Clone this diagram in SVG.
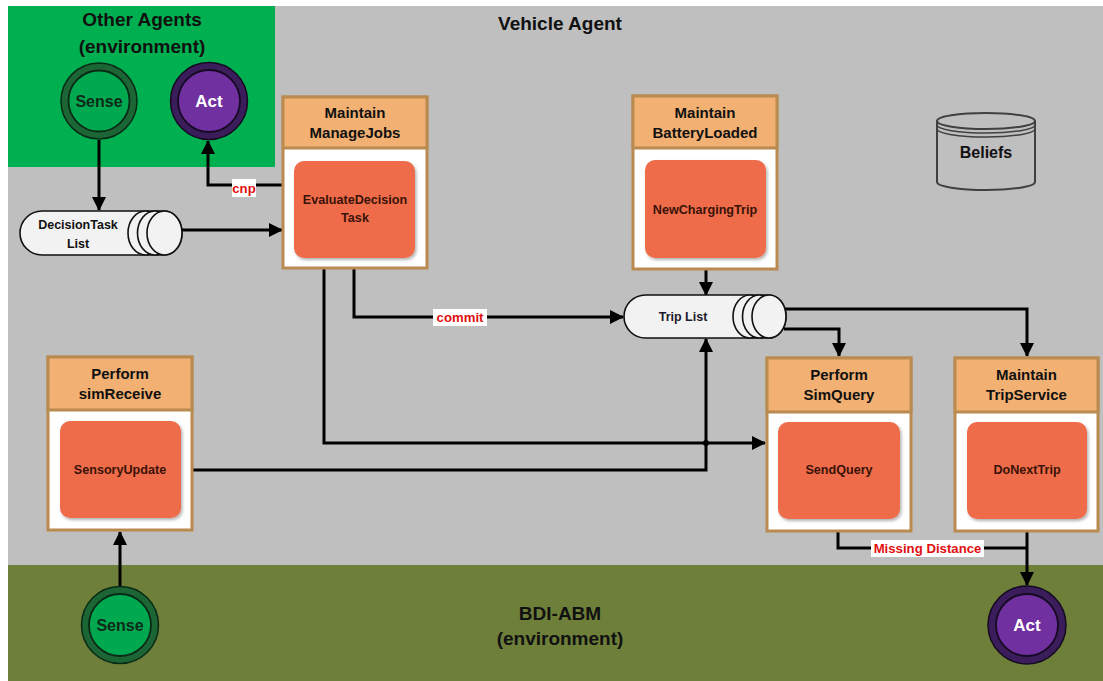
<svg xmlns="http://www.w3.org/2000/svg" width="1103" height="681" viewBox="0 0 1103 681">
<defs>
<marker id="ah" markerUnits="userSpaceOnUse" markerWidth="14" markerHeight="14" viewBox="0 0 14 14" refX="13" refY="7" orient="auto">
<path d="M0,0 L14,7 L0,14 Z" fill="#000"/>
</marker>
<filter id="sh" x="-10%" y="-10%" width="130%" height="130%">
<feDropShadow dx="1.5" dy="2" stdDeviation="1.5" flood-color="#000" flood-opacity="0.3"/>
</filter>
</defs>
<style>
text{font-family:"Liberation Sans",Arial,sans-serif;font-weight:bold;text-anchor:middle}
.ttl{font-size:19px;fill:#111}
.hdr{font-size:15px;fill:#111}
.in{font-size:12.6px;fill:#3a1208}
.q{font-size:12.5px;fill:#111}
.lbl{font-size:13.2px;fill:#e01010}
.outer{fill:#fff;stroke:#b98b50;stroke-width:3}
.head{fill:#f2b072;stroke:#b98b50;stroke-width:3}
.task{fill:#ee6c4a;filter:url(#sh)}
.cyl{fill:#f2f2f2;stroke:#111;stroke-width:1.6}
.con{fill:none;stroke:#000;stroke-width:3}
.lblbox{fill:#fff}
</style>
<rect x="0" y="0" width="1103" height="681" fill="#fff"/>
<rect x="8" y="6" width="1095" height="560" fill="#bfbfbf"/>
<rect x="8" y="6" width="267" height="161" fill="#00b050"/>
<rect x="8" y="565" width="1095" height="116" fill="#6e7f3a"/>
<text class="ttl" x="142" y="26">Other Agents</text>
<text class="ttl" x="142" y="53">(environment)</text>
<text class="ttl" x="560" y="30">Vehicle Agent</text>
<text class="ttl" x="560" y="620">BDI-ABM</text>
<text class="ttl" x="560" y="645">(environment)</text>

<g id="connectors">
<path class="con" d="M99,140 V210" marker-end="url(#ah)"/>
<path class="con" d="M182,230 H282" marker-end="url(#ah)"/>
<path class="con" d="M294,185 H208 V141" marker-end="url(#ah)"/>
<path class="con" d="M354,258 V317 H623" marker-end="url(#ah)"/>
<path class="con" d="M324,258 V443 H765" marker-end="url(#ah)"/>
<circle cx="706" cy="443" r="3" fill="#000"/>
<path class="con" d="M181,470 H706 V339" marker-end="url(#ah)"/>
<path class="con" d="M706,258 V295" marker-end="url(#ah)"/>
<path class="con" d="M784,309 H1027 V356" marker-end="url(#ah)"/>
<path class="con" d="M784,329 H839 V356" marker-end="url(#ah)"/>
<path class="con" d="M120,586 V532" marker-end="url(#ah)"/>
<path class="con" d="M838,519 V548 H1027"/>
<path class="con" d="M1027,519 V585" marker-end="url(#ah)"/>
<rect class="lblbox" x="232" y="179" width="24" height="18"/>
<text class="lbl" x="244" y="193">cnp</text>
<rect class="lblbox" x="433" y="309" width="54" height="17"/>
<text class="lbl" x="460" y="322">commit</text>
<rect class="lblbox" x="871" y="540" width="113" height="17"/>
<text class="lbl" x="927.5" y="553">Missing Distance</text>
</g>

<g id="sense-top">
<circle cx="99" cy="101" r="38" fill="#1c6636" stroke="#0a2a15" stroke-width="1.5"/>
<circle cx="99" cy="101" r="30.5" fill="#00a84f" stroke="#0a2a15" stroke-width="1.8"/>
<text x="99" y="107" style="font-size:16px;fill:#0f2a18">Sense</text>
</g>
<g id="act-top">
<circle cx="209" cy="101" r="38.5" fill="#3a1d5a" stroke="#150a22" stroke-width="1.5"/>
<circle cx="209" cy="101" r="31" fill="#7030a0" stroke="#150a22" stroke-width="1.8"/>
<text x="209" y="107" style="font-size:17px;fill:#fff">Act</text>
</g>

<g id="decision-task-list">
<path class="cyl" d="M42,211 H164.5 A17.5,22 0 0 1 164.5,255 H42 A22,22 0 0 1 42,211 Z"/>
<ellipse class="cyl" cx="145.5" cy="233" rx="17.5" ry="22"/>
<ellipse class="cyl" cx="155" cy="233" rx="17.5" ry="22"/>
<ellipse class="cyl" cx="164.5" cy="233" rx="17.5" ry="22"/>
<text class="q" x="78" y="229">DecisionTask</text>
<text class="q" x="78" y="248">List</text>
</g>

<g id="manage-jobs">
<rect class="outer" x="283" y="97" width="144" height="171"/>
<rect class="head" x="283" y="97" width="144" height="51"/>
<text class="hdr" x="355" y="118">Maintain</text>
<text class="hdr" x="355" y="138">ManageJobs</text>
<rect class="task" x="294" y="161" width="121" height="97" rx="10"/>
<text class="in" x="355" y="204">EvaluateDecision</text>
<text class="in" x="355" y="222">Task</text>
</g>

<g id="battery-loaded">
<rect class="outer" x="633" y="96" width="144" height="173"/>
<rect class="head" x="633" y="96" width="144" height="52"/>
<text class="hdr" x="705" y="118">Maintain</text>
<text class="hdr" x="705" y="138">BatteryLoaded</text>
<rect class="task" x="645" y="160" width="121" height="98" rx="10"/>
<text class="in" x="705" y="214">NewChargingTrip</text>
</g>

<g id="beliefs">
<path d="M937,121 V182 A49,8 0 0 0 1035,182 V121" fill="none" stroke="#404040" stroke-width="2"/>
<ellipse cx="986" cy="121" rx="49" ry="8" fill="none" stroke="#404040" stroke-width="2"/>
<path d="M937,125 A49,8 0 0 0 1035,125 M937,129 A49,8 0 0 0 1035,129" fill="none" stroke="#404040" stroke-width="1.5"/>
<text x="986" y="158" style="font-size:16px;fill:#111">Beliefs</text>
</g>

<g id="trip-list">
<path class="cyl" d="M645.5,295 H769 A17,21.5 0 0 1 769,338 H645.5 A21.5,21.5 0 0 1 645.5,295 Z"/>
<ellipse class="cyl" cx="750" cy="316.5" rx="17" ry="21.5"/>
<ellipse class="cyl" cx="759.5" cy="316.5" rx="17" ry="21.5"/>
<ellipse class="cyl" cx="769" cy="316.5" rx="17" ry="21.5"/>
<text class="q" x="683" y="321" style="fill:#1a1a2a">Trip List</text>
</g>

<g id="sim-receive">
<rect class="outer" x="48" y="357" width="144" height="173"/>
<rect class="head" x="48" y="357" width="144" height="53"/>
<text class="hdr" x="120" y="379">Perform</text>
<text class="hdr" x="120" y="399">simReceive</text>
<rect class="task" x="60" y="421" width="121" height="97" rx="10"/>
<text class="in" x="120" y="474">SensoryUpdate</text>
</g>

<g id="sim-query">
<rect class="outer" x="767" y="358" width="144" height="173"/>
<rect class="head" x="767" y="358" width="144" height="54"/>
<text class="hdr" x="839" y="380">Perform</text>
<text class="hdr" x="839" y="400">SimQuery</text>
<rect class="task" x="778" y="422" width="122" height="97" rx="10"/>
<text class="in" x="839" y="474">SendQuery</text>
</g>

<g id="trip-service">
<rect class="outer" x="955" y="358" width="143" height="173"/>
<rect class="head" x="955" y="358" width="143" height="54"/>
<text class="hdr" x="1026.5" y="380">Maintain</text>
<text class="hdr" x="1026.5" y="400">TripService</text>
<rect class="task" x="967" y="422" width="120" height="97" rx="10"/>
<text class="in" x="1027" y="474">DoNextTrip</text>
</g>

<g id="sense-bottom">
<circle cx="120" cy="625" r="38.5" fill="#1c6636" stroke="#0a2a15" stroke-width="1.5"/>
<circle cx="120" cy="625" r="31" fill="#00a84f" stroke="#0a2a15" stroke-width="1.8"/>
<text x="120" y="631" style="font-size:16px;fill:#0f2a18">Sense</text>
</g>
<g id="act-bottom">
<circle cx="1027" cy="625" r="39" fill="#3a1d5a" stroke="#150a22" stroke-width="1.5"/>
<circle cx="1027" cy="625" r="31" fill="#7030a0" stroke="#150a22" stroke-width="1.8"/>
<text x="1027" y="631" style="font-size:17px;fill:#fff">Act</text>
</g>
</svg>
